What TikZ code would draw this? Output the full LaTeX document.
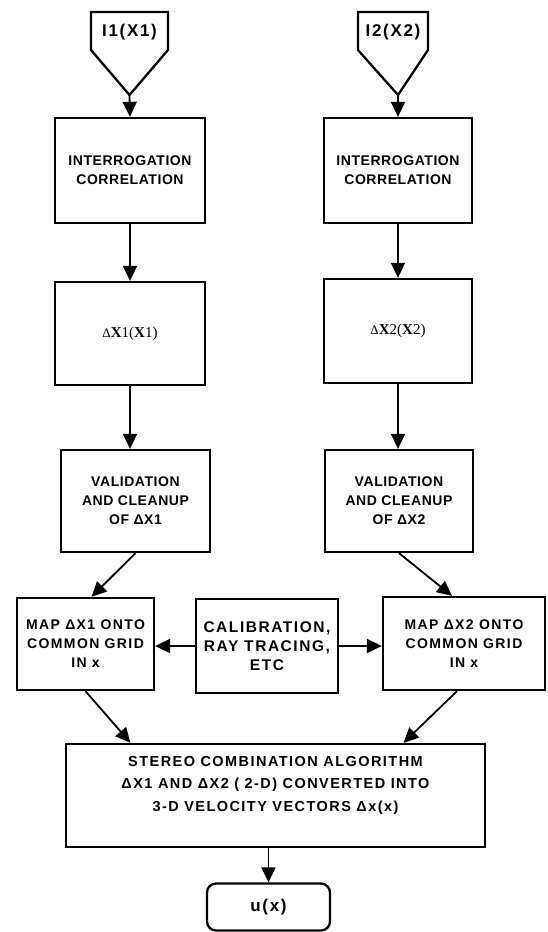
\documentclass[tikz,border=0pt]{standalone}
\usepackage{fontspec}
\setmainfont{Liberation Sans}
\newfontfamily\boxfont[LetterSpace=4]{Liberation Sans}
\newfontfamily\widefont[LetterSpace=10]{Liberation Sans}
\newfontfamily\dxfont{Liberation Serif}
\usetikzlibrary{arrows.meta}

\tikzset{
  stage/.style={draw, line width=2.3pt, align=center, inner sep=2pt,
    font=\boxfont\bfseries\fontsize{14}{19}\selectfont},
  flow/.style={line width=1.8pt, -{Triangle[length=15pt,width=14pt]}},
  source/.style={draw, line width=2.3pt, line join=miter}
}

\begin{document}
\begin{tikzpicture}[x=1pt,y=-1pt]
    \useasboundingbox (0,0) rectangle (547,932);

    % Camera 1 input image
    \draw[source] (91,12) -- (168,12) -- (168,50) -- (129.5,95) -- (91,50) -- cycle;
    \coordinate (tip1) at (129.5,95);
    \node[font=\widefont\bfseries\fontsize{17}{20}\selectfont] (img1) at (129.5,32) {I1(X1)};

    % Camera 2 input image
    \draw[source] (358,12) -- (428,12) -- (428,50) -- (398,95) -- (358,50) -- cycle;
    \coordinate (tip2) at (398,95);
    \node[font=\widefont\bfseries\fontsize{17}{20}\selectfont] (img2) at (393,32) {I2(X2)};

    % Left branch
    \node[stage, minimum width=150pt, minimum height=105pt] (corr1) at (130,170.5) {INTERROGATION\\CORRELATION};
    \node[stage, minimum width=150pt, minimum height=103pt,
          font=\dxfont\fontsize{15}{17}\selectfont] (dx1) at (130,333.5) {{\fontsize{13}{13}\selectfont Δ}\textbf{X}1(\textbf{X}1)};
    \node[stage, minimum width=149pt, minimum height=102pt] (valid1) at (135.5,501) {VALIDATION\\AND CLEANUP\\OF ΔX1};
    \node[stage, minimum width=137pt, minimum height=92pt,
          font=\widefont\bfseries\fontsize{14}{19}\selectfont] (map1) at (85.5,644) {MAP ΔX1 ONTO\\COMMON GRID\\IN x};

    % Right branch
    \node[stage, minimum width=148pt, minimum height=105pt] (corr2) at (398,170.5) {INTERROGATION\\CORRELATION};
    \node[stage, minimum width=148pt, minimum height=104pt,
          font=\dxfont\fontsize{15}{17}\selectfont] (dx2) at (398,331) {{\fontsize{13}{13}\selectfont Δ}\textbf{X}2(\textbf{X}2)};
    \node[stage, minimum width=148pt, minimum height=102pt] (valid2) at (399,501) {VALIDATION\\AND CLEANUP\\OF ΔX2};
    \node[stage, minimum width=162pt, minimum height=93pt,
          font=\widefont\bfseries\fontsize{14}{19}\selectfont] (map2) at (464,643.5) {MAP ΔX2 ONTO\\COMMON GRID\\IN x};

    % Calibration in the middle
    \node[stage, minimum width=142pt, minimum height=94pt,
          font=\widefont\bfseries\fontsize{15.5}{19}\selectfont] (calib) at (267,646) {CALIBRATION,\\RAY TRACING,\\ETC};

    % Stereo combination and result
    \node[stage, minimum width=419pt, minimum height=103pt, text depth=24pt,
          font=\widefont\bfseries\fontsize{14.5}{22.5}\selectfont] (stereo) at (275.5,795.5)
          {STEREO COMBINATION ALGORITHM\\
           ΔX1 AND ΔX2 ( 2-D) CONVERTED INTO\\3-D VELOCITY VECTORS Δx(x)};
    \node[stage, rounded corners=9pt, minimum width=123pt, minimum height=47pt,
          font=\widefont\bfseries\fontsize{17}{20}\selectfont] (result) at (268.5,907) {u(x)};

    % Connectors
    \draw[flow] (tip1) -- (corr1.north);
    \draw[flow] (tip2) -- (corr2.north);
    \draw[flow] (corr1) -- (dx1);
    \draw[flow] (corr2) -- (dx2);
    \draw[flow] (dx1) -- (valid1.north -| dx1.south);
    \draw[flow] (dx2) -- (valid2.north -| dx2.south);
    \draw[flow] (valid1.south) -- ([xshift=6pt]map1.north);
    \draw[flow] (valid2.south) -- ([xshift=-12pt]map2.north);
    \draw[flow] (calib.west) -- (calib.west -| map1.east);
    \draw[flow] (calib.east) -- (calib.east -| map2.west);
    \draw[flow] (map1.south) -- ([xshift=-145pt]stereo.north);
    \draw[flow] ([xshift=-7pt]map2.south) -- ([xshift=128pt]stereo.north);
    \draw[flow] (stereo.south -| result.north) -- (result.north);
\end{tikzpicture}
\end{document}
